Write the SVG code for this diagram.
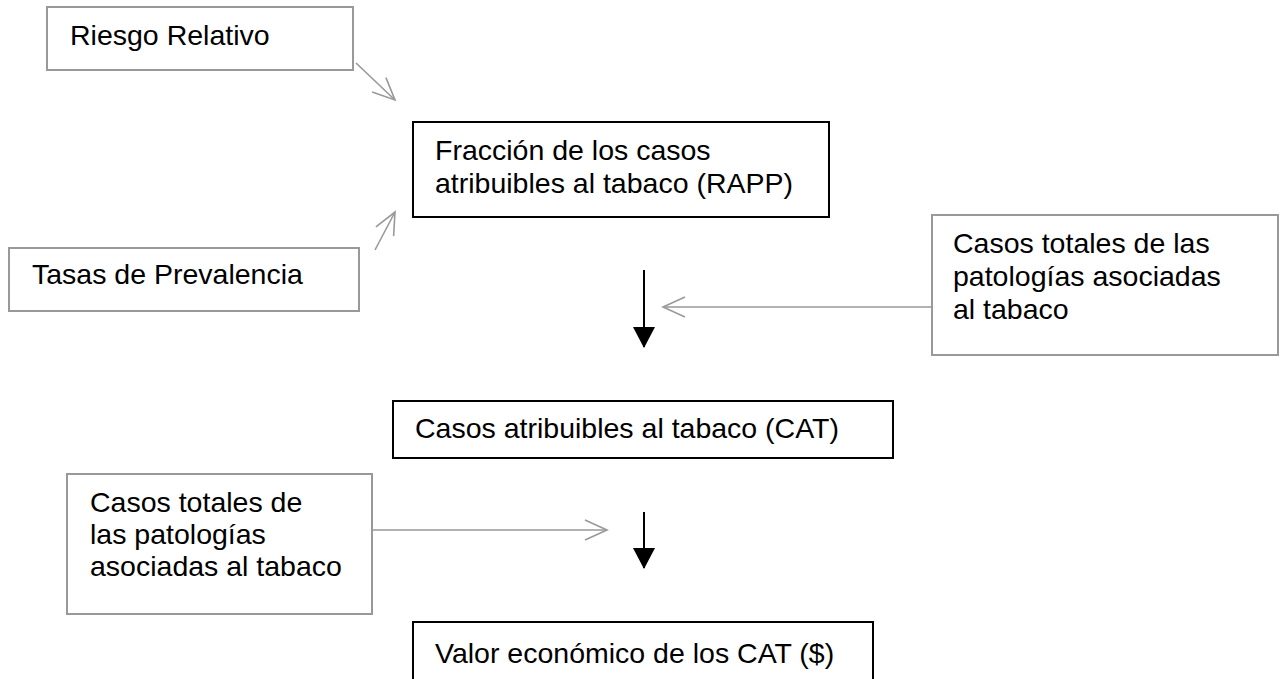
<svg xmlns="http://www.w3.org/2000/svg" width="1280" height="679" viewBox="0 0 1280 679">
<style>
.box-g{fill:#fff;stroke:#999;stroke-width:2}
.box-k{fill:#fff;stroke:#000;stroke-width:2}
.t{font-family:"Liberation Sans",Arial,sans-serif;font-size:28.5px;fill:#000}
.ga{fill:none;stroke:#999;stroke-width:1.6}
.ka{stroke:#000;stroke-width:2}
</style>
<defs>
<marker id="open" markerUnits="userSpaceOnUse" markerWidth="30" markerHeight="30" refX="24" refY="12" orient="auto" viewBox="0 0 30 24">
<path d="M2,2 L24,12 L2,22" fill="none" stroke="#999" stroke-width="1.6"/>
</marker>
<marker id="solid" markerUnits="userSpaceOnUse" markerWidth="22" markerHeight="22" refX="20" refY="11" orient="auto" viewBox="0 0 22 22">
<path d="M0,0 L21,11 L0,22 Z" fill="#000"/>
</marker>
</defs>
<rect width="1280" height="679" fill="#fff"/>
<g id="riesgo">
<rect class="box-g" x="47" y="7" width="306" height="63"/>
<text class="t" x="70" y="45">Riesgo Relativo</text>
</g>
<g id="tasas">
<rect class="box-g" x="9" y="248" width="350" height="63"/>
<text class="t" x="32" y="284">Tasas de Prevalencia</text>
</g>
<g id="rapp">
<rect class="box-k" x="413" y="122" width="416" height="95"/>
<text class="t" x="435" y="160">Fracción de los casos</text>
<text class="t" x="435" y="193">atribuibles al tabaco (RAPP)</text>
</g>
<g id="totales1">
<rect class="box-g" x="932" y="215" width="346" height="140"/>
<text class="t" x="953" y="253">Casos totales de las</text>
<text class="t" x="953" y="286">patologías asociadas</text>
<text class="t" x="953" y="319">al tabaco</text>
</g>
<g id="cat">
<rect class="box-k" x="393" y="401" width="500" height="57"/>
<text class="t" x="415" y="438">Casos atribuibles al tabaco (CAT)</text>
</g>
<g id="totales2">
<rect class="box-g" x="67" y="474" width="305" height="140"/>
<text class="t" x="90" y="512">Casos totales de</text>
<text class="t" x="90" y="544">las patologías</text>
<text class="t" x="90" y="576">asociadas al tabaco</text>
</g>
<g id="valor">
<rect class="box-k" x="413" y="622" width="460" height="70"/>
<text class="t" x="435" y="663">Valor económico de los CAT ($)</text>
</g>
<g id="connectors">
<line class="ga" x1="356" y1="63" x2="395" y2="100" marker-end="url(#open)"/>
<line class="ga" x1="375" y1="250" x2="395" y2="212" marker-end="url(#open)"/>
<line class="ga" x1="932" y1="307" x2="663" y2="307" marker-end="url(#open)"/>
<line class="ga" x1="373" y1="530" x2="607" y2="530" marker-end="url(#open)"/>
<line class="ka" x1="644" y1="270" x2="644" y2="347" marker-end="url(#solid)"/>
<line class="ka" x1="644" y1="512" x2="644" y2="568" marker-end="url(#solid)"/>
</g>
</svg>
